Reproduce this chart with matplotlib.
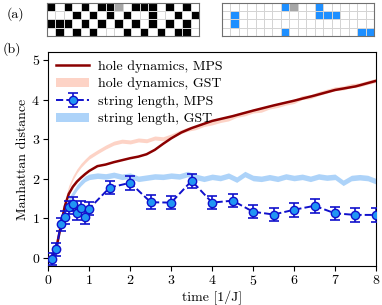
import matplotlib
matplotlib.use("Agg")
import matplotlib.pyplot as plt
from matplotlib.colors import ListedColormap
import numpy as np

plt.rcParams['font.family'] = 'serif'
plt.rcParams['font.serif'] = ['cmr10', 'DejaVu Serif']
plt.rcParams['mathtext.fontset'] = 'cm'
plt.rcParams['axes.formatter.use_mathtext'] = True
plt.rcParams['font.size'] = 10

# snapshot (a): 0 white, 1 black, 2 hole, 3 string
snap_spins = ["101010112011101010",
              "000101010100100101",
              "111010101010101010",
              "010101000101010110"]
snap_string = ["000000032003000000",
               "030000000003330000",
               "030000000000000000",
               "000000030000000033"]

# hole dynamics, MPS
t_mps = [0, 0.1, 0.2, 0.3, 0.4, 0.5, 0.6, 0.7, 0.8, 0.9, 1.0, 1.2, 1.4, 1.6, 1.8, 2.0, 2.2, 2.4,
         2.6, 2.8, 3.0, 3.25, 3.5, 3.75, 4.0, 4.5, 5.0, 5.5, 6.0, 6.5, 7.0, 7.5, 8.0]
hole_mps = [0, 0.03, 0.28, 0.78, 1.3, 1.62, 1.8, 1.93, 2.03, 2.12, 2.2, 2.32, 2.36, 2.42, 2.47, 2.52,
            2.56, 2.62, 2.73, 2.88, 3.02, 3.17, 3.28, 3.37, 3.46, 3.58, 3.72, 3.85, 3.97, 4.1, 4.24, 4.33, 4.47]

# GST curves
t_gst = [0, 0.1, 0.2, 0.3, 0.4, 0.5, 0.6, 0.7, 0.8, 0.9, 1.0, 1.2, 1.4, 1.6, 1.8, 2.0, 2.2, 2.4, 2.6,
         2.8, 3.0, 3.2, 3.4, 3.6, 3.8, 4.0, 4.2, 4.4, 4.6, 4.8, 5.0, 5.2, 5.4, 5.6, 5.8, 6.0, 6.2,
         6.4, 6.6, 6.8, 7.0, 7.2, 7.4, 7.6, 7.8, 8.0]
hole_gst = [0, 0.05, 0.3, 0.85, 1.4, 1.78, 2.02, 2.2, 2.34, 2.45, 2.55, 2.68, 2.8, 2.9, 2.95, 2.93,
            2.98, 2.96, 3.03, 3.01, 3.08, 3.17, 3.25, 3.29, 3.37, 3.41, 3.47, 3.51, 3.6, 3.64, 3.71,
            3.73, 3.81, 3.85, 3.91, 3.95, 4.05, 4.07, 4.15, 4.21, 4.27, 4.29, 4.35, 4.37, 4.43, 4.48]
string_gst = [0, 0.02, 0.25, 0.75, 1.15, 1.45, 1.62, 1.78, 1.9, 2.0, 2.05, 2.08, 2.06, 2.1, 2.05,
              2.08, 2.0, 2.03, 2.06, 2.05, 2.08, 2.06, 2.12, 2.05, 2.0, 2.05, 2.02, 2.08, 1.98, 2.12,
              2.02, 2.0, 2.04, 2.0, 2.06, 2.02, 2.05, 2.0, 2.06, 2.03, 2.05, 1.9, 2.02, 2.04, 2.02, 1.94]
hole_width = 0.05
string_width = 0.07

# string length, MPS
t_str = [0.1, 0.2, 0.3, 0.4, 0.5, 0.6, 0.7, 0.8, 0.9, 1.0, 1.5, 2.0, 2.5, 3.0, 3.5, 4.0, 4.5,
         5.0, 5.5, 6.0, 6.5, 7.0, 7.5, 8.0]
string_mps = [-0.02, 0.22, 0.85, 1.03, 1.28, 1.37, 1.14, 1.26, 1.04, 1.25, 1.78, 1.9, 1.41, 1.4,
              1.95, 1.4, 1.45, 1.17, 1.1, 1.22, 1.32, 1.13, 1.09, 1.09]
string_err = [0.15, 0.17, 0.17, 0.17, 0.17, 0.17, 0.17, 0.17, 0.17, 0.17, 0.17, 0.17, 0.17, 0.17,
              0.17, 0.17, 0.17, 0.17, 0.17, 0.17, 0.17, 0.17, 0.17, 0.17]

fig = plt.figure(figsize=(3.82, 3.05), dpi=100)

cmap = ListedColormap(['white', 'black', '#a6a6a6', '#1e8fff'])
for rows, left in [(snap_spins, 0.1222), (snap_string, 0.5804)]:
    axg = fig.add_axes([left, 0.882, 0.3987, 0.109])
    grid = np.array([[int(c) for c in r] for r in rows])
    axg.pcolormesh(grid, cmap=cmap, vmin=-0.5, vmax=3.5, edgecolors='#d4d4d4', linewidth=0.6)
    axg.set_xlim(0, grid.shape[1])
    axg.set_ylim(grid.shape[0], 0)
    axg.set_xticks([])
    axg.set_yticks([])
    for s in axg.spines.values():
        s.set_color('#707070')
        s.set_linewidth(0.8)

fig.text(7 / 382, 1 - 14 / 305, '(a)', fontsize=10, va='center')
fig.text(3 / 382, 1 - 49 / 305, '(b)', fontsize=10, va='center')

ax = fig.add_axes([0.1264, 0.1289, 0.8578, 0.6996])
ax.plot(t_mps, hole_mps, color='#8b0000', lw=1.8, label='hole dynamics, MPS', zorder=3)
hg = np.array(hole_gst)
ax.fill_between(t_gst, hg - hole_width, hg + hole_width, color='#fdd3c6', lw=0,
                label='hole dynamics, GST', zorder=2)
ax.errorbar(t_str, string_mps, yerr=string_err, fmt='o--', color='#1010cc', mfc='#2196f3',
            mec='#1010cc', ms=6, lw=1.4, capsize=3.8, elinewidth=1.2, capthick=1.2,
            label='string length, MPS', zorder=4)
sg = np.array(string_gst)
ax.fill_between(t_gst, sg - string_width, sg + string_width, color='#add3f9', lw=0,
                label='string length, GST', zorder=2)

handles, labels = ax.get_legend_handles_labels()
order = [labels.index(l) for l in ['hole dynamics, MPS', 'hole dynamics, GST',
                                   'string length, MPS', 'string length, GST']]
ax.legend([handles[i] for i in order], [labels[i] for i in order], loc='upper left',
          frameon=False, handlelength=2.4, fontsize=10, borderaxespad=0.15,
          labelspacing=0.35, handletextpad=0.6)

ax.set_xlim(0, 8)
ax.set_ylim(-0.19, 5.19)
ax.set_xticks(range(9))
ax.set_yticks(range(6))
ax.set_xlabel('time [1/J]', labelpad=2)
ax.set_ylabel('Manhattan distance', labelpad=2)
ax.tick_params(length=3.5, width=0.8, pad=2.5)

fig.savefig('out.png', dpi=100)
